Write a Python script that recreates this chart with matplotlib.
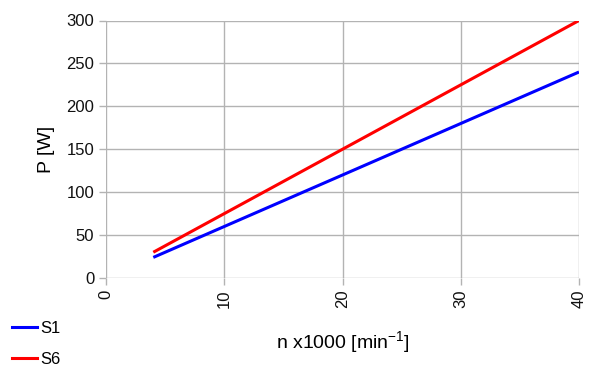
import matplotlib
matplotlib.use('Agg')
import matplotlib.pyplot as plt
from matplotlib.lines import Line2D

plt.rcParams['font.family'] = ['Liberation Sans', 'DejaVu Sans']

# speed in 1000 rpm, power in W
n = [4, 40]
s1 = [24, 240]
s6 = [30, 300]

fig = plt.figure(figsize=(6, 3.87), dpi=100)
ax = fig.add_axes([106 / 600, 1 - 278 / 387, (579 - 106) / 600, (278 - 20.5) / 387])

ax.plot(n, s1, color='#0000ff', lw=2.2, label='S1', solid_capstyle='butt')
ax.plot(n, s6, color='#ff0000', lw=2.2, label='S6', solid_capstyle='butt')

ax.set_xlim(0, 40)
ax.set_ylim(0, 300)
ax.set_xticks([0, 10, 20, 30, 40])
ax.set_yticks(range(0, 301, 50))
ax.grid(True, color='#b3b3b3', lw=1)
ax.set_axisbelow(True)
for s in ax.spines.values():
    s.set_visible(False)
ax.tick_params(axis='both', color='#b3b3b3', length=5, width=1, labelsize=12, labelcolor='#111111')
ax.tick_params(axis='x', labelrotation=90)

ax.set_ylabel('P [W]', fontsize=14, labelpad=8)
ax.set_xlabel('n x1000 [min$^{\\mathregular{-1}}$]', fontsize=14, labelpad=15)

handles = [Line2D([], [], color='#0000ff', lw=2.2), Line2D([], [], color='#ff0000', lw=2.2)]
fig.legend(handles, ['S1', 'S6'], loc='upper left', bbox_to_anchor=(-0.005, 0.21), frameon=False,
           fontsize=12, handlelength=1.5, handletextpad=0.2, labelspacing=0.95)

fig.savefig('out.png', dpi=100)
